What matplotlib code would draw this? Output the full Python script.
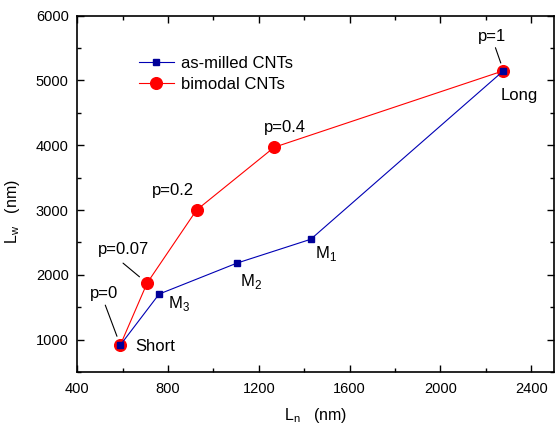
import matplotlib
matplotlib.use("Agg")
import matplotlib.pyplot as plt
from matplotlib.ticker import MultipleLocator

plt.rcParams['font.family'] = ['Liberation Sans', 'DejaVu Sans']
plt.rcParams['mathtext.fontset'] = 'custom'
plt.rcParams['mathtext.rm'] = 'Liberation Sans'

# data
milled_ln = [590, 761, 1103, 1429, 2278]
milled_lw = [915, 1703, 2180, 2549, 5150]
milled_tags = ['Short', 'M$_\\mathregular{3}$', 'M$_\\mathregular{2}$', 'M$_\\mathregular{1}$', 'Long']

bimodal_ln = [590, 708, 926, 1268, 2278]
bimodal_lw = [915, 1872, 3000, 3969, 5150]
bimodal_tags = ['p=0', 'p=0.07', 'p=0.2', 'p=0.4', 'p=1']

blue = '#0000B4'
red = '#FF0000'

fig = plt.figure(figsize=(5.55, 4.24), dpi=100)
ax = fig.add_axes([0.139, 0.1226, 0.859, 0.8404])

h_red, = ax.plot(bimodal_ln, bimodal_lw, '-', color=red, lw=0.8, marker='o',
                 ms=8.4, mfc=red, mec=red, label='bimodal CNTs')
h_blue, = ax.plot(milled_ln, milled_lw, '-', color=blue, lw=0.8, marker='s',
                  ms=5.0, mfc='#000099', mec='#000099', label='as-milled CNTs')

# labels for as-milled points (offsets in points)
milled_off = [(25, -1), (14, -7), (10, -13), (11, -10), (11, -18)]
for x, y, t, off in zip(milled_ln, milled_lw, milled_tags, milled_off):
    ax.annotate(t, (x, y), xytext=off, textcoords='offset points',
                ha='center', va='center', fontsize=12)

# labels for bimodal points
bimodal_off = [(-12, 37), (-17, 24), (-17, 14), (8, 14), (-8, 25)]
for x, y, t, off in zip(bimodal_ln, bimodal_lw, bimodal_tags, bimodal_off):
    ax.annotate(t, (x, y), xytext=off, textcoords='offset points',
                ha='center', va='center', fontsize=12)

# leader lines (start offset, gap at the point)
leaders = {0: ((-10.8, 28.8), 6.8), 1: ((-17.3, 14.4), 7.1), 4: ((-5.8, 16.6), 5.9)}
for i, (start, gap) in leaders.items():
    ax.annotate('', (bimodal_ln[i], bimodal_lw[i]), xytext=start,
                textcoords='offset points',
                arrowprops=dict(arrowstyle='-', color='black', lw=0.8,
                                shrinkA=0, shrinkB=gap))

ax.set_xlim(400, 2500)
ax.set_ylim(500, 6000)
ax.xaxis.set_major_locator(MultipleLocator(400))
ax.xaxis.set_minor_locator(MultipleLocator(200))
ax.yaxis.set_major_locator(MultipleLocator(1000))
ax.yaxis.set_minor_locator(MultipleLocator(500))
ax.tick_params(which='both', direction='in', top=True, right=True, width=1.0)
ax.tick_params(which='major', length=5, labelsize=10.5)
ax.tick_params(axis='y', which='major', pad=6)
ax.tick_params(axis='x', which='major', pad=7)
ax.tick_params(which='minor', length=3)
for s in ax.spines.values():
    s.set_linewidth(1.2)

ax.set_xlabel('L$_\\mathregular{n}$   (nm)', fontsize=11.5)
ax.set_ylabel('L$_\\mathregular{w}$   (nm)', fontsize=11.5)
ax.xaxis.set_label_coords(0.5, -0.095)
ax.yaxis.set_label_coords(-0.115, 0.45)

ax.legend(handles=[h_blue, h_red], loc='upper left', bbox_to_anchor=(0.115, 0.905),
          frameon=False, fontsize=12, handlelength=2.1, handletextpad=0.45,
          labelspacing=0.35, borderaxespad=0)

fig.savefig('out.png', dpi=100)
